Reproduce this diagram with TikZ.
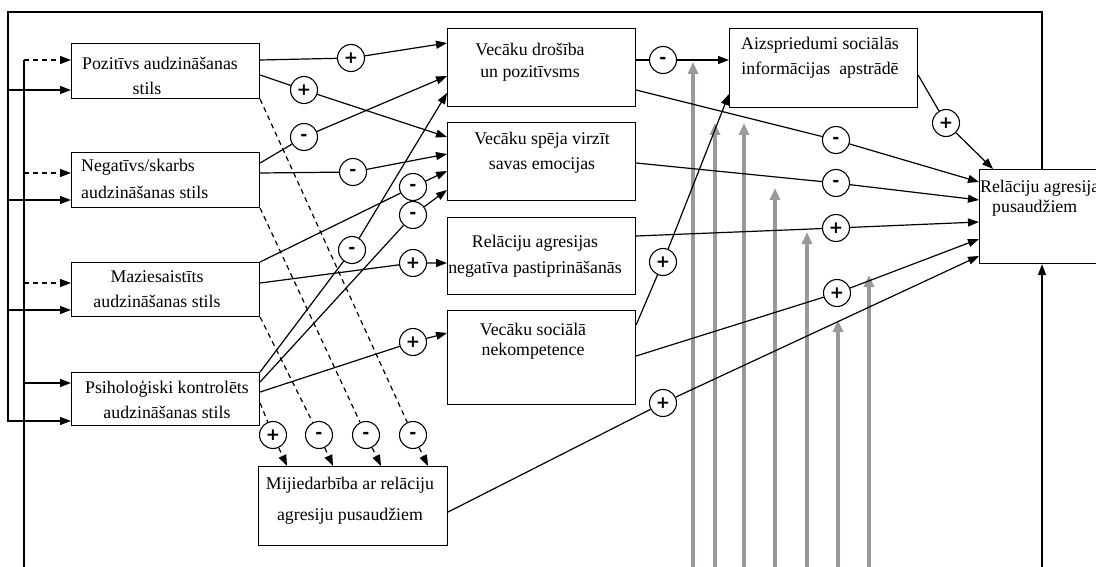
\documentclass[tikz,border=0pt]{standalone}
\usepackage{fontspec}
\setmainfont{Liberation Serif}
\newfontfamily\signfont{DejaVu Sans}
\usetikzlibrary{arrows.meta}
\definecolor{modgray}{RGB}{152,152,158}
\tikzset{
  box/.style={draw,line width=1.1pt,anchor=north west,inner sep=0pt,minimum width=188pt},
  txt/.style={align=center,inner sep=0pt,font=\fontsize{17.8}{25}\selectfont},
  sgn/.style={draw,circle,fill=white,line width=1.1pt,minimum size=27pt,inner sep=0pt,font=\signfont\fontsize{17}{17}\selectfont\bfseries},
  link/.style={line width=1.2pt},
  arr/.style={line width=1.2pt,-{Triangle[length=11pt,width=8pt]}},
  dasharr/.style={arr,dash pattern=on 5pt off 4pt},
  modarr/.style={modgray,line width=3.4pt,-{Triangle[length=12pt,width=10pt]}}
}
\begin{document}
\begin{tikzpicture}[x=1pt,y=-1pt]
\useasboundingbox (0,0) rectangle (1096,567);
% boxes
\node[box,minimum height=55pt] (poz) at (71,43) {};
\node[box,minimum height=55pt] (neg) at (71,152) {};
\node[box,minimum height=54pt] (maz) at (71,262) {};
\node[box,minimum height=53pt] (psi) at (71,372) {};
\node[box,minimum height=78pt] (dros) at (447,28) {};
\node[box,minimum height=78pt] (speja) at (447,122) {};
\node[box,minimum height=77pt] (negpast) at (447,217) {};
\node[box,minimum height=94pt] (nekomp) at (447,310) {};
\node[box,minimum height=79pt] (aizsp) at (729,28) {};
\node[box,minimum width=140pt,minimum height=94pt] (rel) at (979,169) {};
\node[box,minimum width=189pt,minimum height=79pt] (mij) at (258,466) {};
% texts
\node[txt] (poz-t) at (160,76) {Pozitīvs audzināšanas\\\hspace*{-26pt}stils};
\node[txt,align=left,anchor=west] (neg-t) at (81,179) {Negatīvs/skarbs\\[2pt]audzināšanas stils};
\node[txt] (maz-t) at (157,289) {Maziesaistīts\\audzināšanas stils};
\node[txt] (psi-t) at (167,400) {Psiholoģiski kontrolēts\\audzināšanas stils};
\node[txt] (dros-t) at (530,62) {Vecāku drošība\\[-3pt]un pozitīvsms};
\node[txt] (speja-t) at (542,153) {Vecāku spēja virzīt\\savas emocijas};
\node[txt] (negpast-t) at (535,256) {Relāciju agresijas\\[1pt]negatīva pastiprināšanās};
\node[txt] (nekomp-t) at (533,341) {Vecāku sociālā\\[-5pt]nekompetence};
\node[txt] (aizsp-t) at (820,58) {Aizspriedumi sociālās\\informācijas~~apstrādē};
\node[txt,align=left,anchor=north west] (rel-t) at (980,180) {Relāciju agresija\\[-5pt]\hspace*{12pt}pusaudžiem};
\node[txt] (mij-t) at (350,501) {Mijiedarbība ar relāciju\\[6pt]agresiju pusaudžiem};
% moderators from below
\draw[modarr] (693,567) -- (693,62);
\draw[modarr] (715,567) -- (715,123);
\draw[modarr] (744,567) -- (744,123);
\draw[modarr] (775,567) -- (775,188);
\draw[modarr] (807,567) -- (807,232);
\draw[modarr] (838,567) -- (838,320);
\draw[modarr] (869,567) -- (869,275);
% signs
\node[sgn] (p1) at (351,58) {+};
\node[sgn] (p2) at (304,90) {+};
\node[sgn] (n1) at (304,137) {-};
\node[sgn] (n2) at (353,172) {-};
\node[sgn] (m1) at (413,187) {-};
\node[sgn] (m2) at (413,263) {+};
\node[sgn] (s1) at (352,250) {-};
\node[sgn] (s2) at (413,215) {-};
\node[sgn] (s3) at (413,342) {+};
\node[sgn] (r1) at (836,140) {-};
\node[sgn] (r2) at (836,183) {-};
\node[sgn] (r3) at (836,228) {+};
\node[sgn] (r4) at (837,293) {+};
\node[sgn] (r5) at (663,403) {+};
\node[sgn] (r6) at (946,123) {+};
\node[sgn] (a1) at (663,60) {-};
\node[sgn] (a2) at (663,262) {+};
\node[sgn] (d1) at (273,435) {+};
\node[sgn] (d2) at (319,435) {-};
\node[sgn] (d3) at (366,435) {-};
\node[sgn] (d4) at (413,435) {-};
% parenting styles -> parent factors
\draw[arr] ([yshift=-17pt]poz.north east) -- (p1) -- ([yshift=-15pt]dros.north west);
\draw[arr] ([yshift=-32pt]poz.north east) -- (p2) -- ([yshift=-15pt]speja.north west);
\draw[arr] ([yshift=-11pt]neg.north east) -- (n1) -- ([yshift=-48pt]dros.north west);
\draw[arr] ([yshift=-21pt]neg.north east) -- (n2) -- ([yshift=-32pt]speja.north west);
\draw[arr] (maz.north east) -- (m1) -- ([yshift=-49pt]speja.north west);
\draw[arr] ([yshift=-21pt]maz.north east) -- (m2) -- ([yshift=-46pt]negpast.north west);
\draw[arr] (psi.north east) -- (s1) -- ([yshift=-65pt]dros.north west);
\draw[arr] ([yshift=-10pt]psi.north east) -- (s2) -- ([yshift=-68pt]speja.north west);
\draw[arr] ([yshift=-20pt]psi.north east) -- (s3) -- ([yshift=-23pt]nekomp.north west);
% parent factors -> outcome
\draw[arr] ([yshift=-62pt]dros.north east) -- (r1) -- ([yshift=-13pt]rel.north west);
\draw[arr] ([yshift=-41pt]speja.north east) -- (r2) -- ([yshift=-31pt]rel.north west);
\draw[arr] ([yshift=-19pt]negpast.north east) -- (r3) -- ([yshift=-53pt]rel.north west);
\draw[arr] ([yshift=-46pt]nekomp.north east) -- (r4) -- ([yshift=-70pt]rel.north west);
\draw[arr] ([yshift=-46pt]mij.north east) -- (r5) -- ([yshift=-87pt]rel.north west);
\draw[arr] ([yshift=-47pt]aizsp.north east) -- (r6) -- ([xshift=14pt]rel.north west);
\draw[arr] ([yshift=-32pt]dros.north east) -- (a1) -- ([yshift=-32pt]aizsp.north west);
\draw[arr] ([yshift=-15pt]nekomp.north east) -- (a2) -- ([yshift=-66pt]aizsp.north west);
% dashed to interaction
\draw[dasharr] (poz.south east) -- (d4) -- ([xshift=170pt]mij.north west);
\draw[dasharr] (neg.south east) -- (d3) -- ([xshift=123pt]mij.north west);
\draw[dasharr] (maz.south east) -- (d2) -- ([xshift=75pt]mij.north west);
\draw[dasharr] ([yshift=-31pt]psi.north east) -- (d1) -- ([xshift=29pt]mij.north west);
% feedback loops
\coordinate (loopL) at (8,12);
\coordinate (loopB) at (24,567);
\coordinate (relB) at (1042,567);
\coordinate (pozA) at ([yshift=-47pt]poz.north west);
\coordinate (negA) at ([yshift=-48pt]neg.north west);
\coordinate (mazA) at ([yshift=-48pt]maz.north west);
\coordinate (psiA) at ([yshift=-49pt]psi.north west);
\coordinate (pozD) at ([yshift=-17pt]poz.north west);
\coordinate (negD) at ([yshift=-21pt]neg.north west);
\coordinate (mazD) at ([yshift=-21pt]maz.north west);
\coordinate (psiD) at ([yshift=-11pt]psi.north west);
\draw[arr] ([xshift=63pt]rel.north west) |- (loopL) |- (psiA);
\draw[arr] (loopL |- pozA) -- (pozA);
\draw[arr] (loopL |- negA) -- (negA);
\draw[arr] (loopL |- mazA) -- (mazA);
\draw[link] (loopB) -- (loopB |- pozD);
\draw[dasharr] (loopB |- pozD) -- (pozD);
\draw[dasharr] (loopB |- negD) -- (negD);
\draw[dasharr] (loopB |- mazD) -- (mazD);
\draw[arr] (loopB |- psiD) -- (psiD);
\draw[arr] (relB) -- (relB |- rel.south);
\end{tikzpicture}
\end{document}
